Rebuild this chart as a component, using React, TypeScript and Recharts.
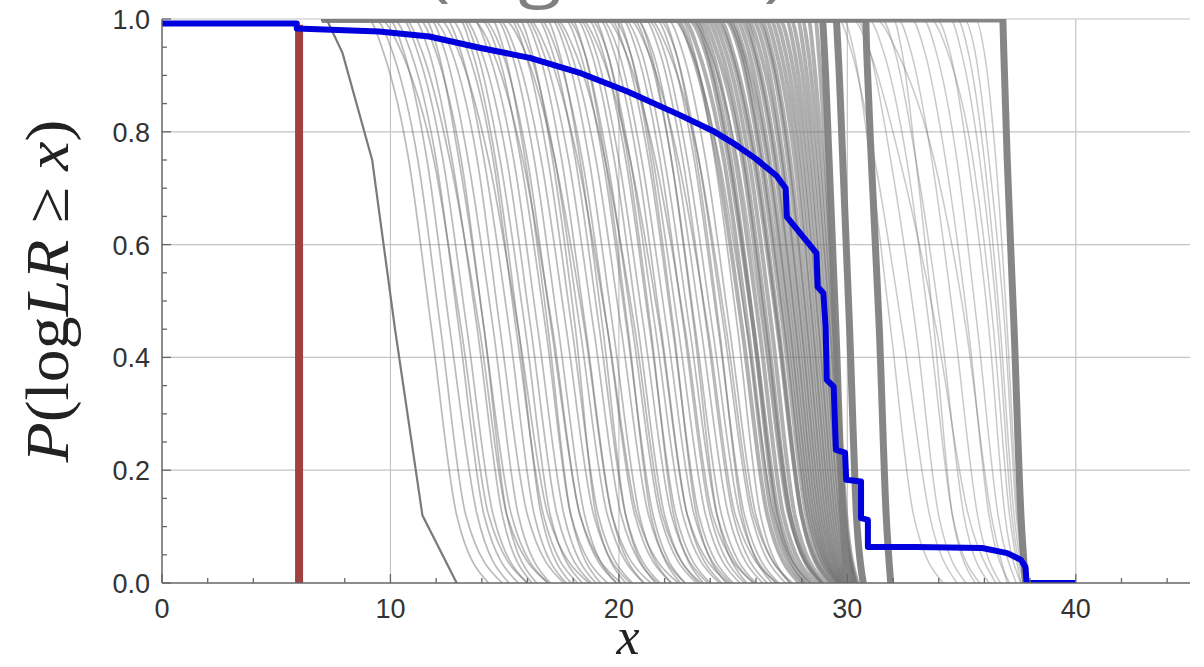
import React from 'react';
import { LineChart, Line, XAxis, YAxis, ReferenceLine } from 'recharts';

// y levels at which each gray curve's x position was read
const yLevels = [1, 0.94, 0.75, 0.45, 0.12, 0];
const curveStartX = 7;

// isolated darker curve on the left
const darkCurve = [7.2, 7.9, 9.2, 10.2, 11.4, 12.9];

// light simulated curves (x at each of yLevels)
const lightCurves: number[][] = [
  [9.0, 9.7, 10.8, 11.8, 12.9, 14.3],
  [9.3, 10.1, 11.2, 12.2, 13.3, 14.9],
  [9.9, 10.6, 11.6, 12.6, 13.8, 15.2],
  [10.1, 10.9, 12.0, 13.0, 14.1, 15.6],
  [10.5, 11.2, 12.3, 13.35, 14.5, 16.0],
  [11.0, 11.7, 12.7, 13.8, 14.9, 16.2],
  [11.2, 12.0, 13.1, 14.1, 15.3, 16.9],
  [11.7, 12.4, 13.4, 14.5, 15.6, 17.0],
  [11.8, 12.7, 13.8, 14.8, 16.0, 17.6],
  [12.4, 13.1, 14.1, 15.2, 16.3, 17.7],
  [12.6, 13.4, 14.5, 15.5, 16.7, 18.2],
  [13.1, 13.8, 14.8, 15.9, 17.0, 18.4],
  [13.2, 14.0, 15.1, 16.15, 17.3, 18.8],
  [13.6, 14.3, 15.4, 16.45, 17.6, 19.0],
  [13.9, 14.7, 15.7, 16.8, 17.9, 19.5],
  [14.0, 14.9, 16.0, 17.05, 18.3, 19.9],
  [14.6, 15.3, 16.3, 17.35, 18.5, 19.9],
  [14.7, 15.5, 16.6, 17.7, 18.9, 20.5],
  [15.2, 15.9, 16.9, 17.95, 19.1, 20.6],
  [15.3, 16.1, 17.2, 18.3, 19.5, 21.1],
  [15.8, 16.5, 17.5, 18.55, 19.7, 21.1],
  [15.9, 16.7, 17.8, 18.9, 20.1, 21.7],
  [16.4, 17.1, 18.1, 19.15, 20.3, 21.8],
  [16.5, 17.3, 18.4, 19.5, 20.7, 22.3],
  [17.0, 17.7, 18.7, 19.75, 20.9, 22.3],
  [17.1, 17.9, 19.0, 20.1, 21.3, 22.9],
  [17.6, 18.3, 19.3, 20.35, 21.5, 22.9],
  [17.7, 18.5, 19.5, 20.6, 21.8, 23.4],
  [18.1, 18.8, 19.8, 20.85, 22.0, 23.5],
  [18.2, 19.0, 20.0, 21.1, 22.3, 23.9],
  [18.6, 19.3, 20.3, 21.35, 22.5, 24.0],
  [18.7, 19.5, 20.5, 21.6, 22.8, 24.4],
  [19.1, 19.8, 20.8, 21.85, 23.0, 24.5],
  [19.2, 20.0, 21.0, 22.1, 23.3, 24.9],
  [19.6, 20.3, 21.3, 22.35, 23.5, 25.0],
  [19.7, 20.5, 21.5, 22.6, 23.8, 25.3],
  [20.1, 20.8, 21.8, 22.85, 24.0, 25.5],
  [20.2, 21.0, 22.0, 23.1, 24.3, 25.9],
  [20.6, 21.3, 22.3, 23.35, 24.5, 26.0],
  [20.7, 21.5, 22.5, 23.6, 24.8, 26.3],
  [21.1, 21.8, 22.8, 23.85, 25.0, 26.5],
  [21.2, 22.0, 23.0, 24.1, 25.3, 26.9],
  [21.6, 22.3, 23.3, 24.35, 25.5, 27.0],
  [21.7, 22.5, 23.5, 24.6, 25.8, 27.3],
  [22.1, 22.8, 23.8, 24.85, 26.0, 27.5],
];

// second family of light curves: gentler and steeper ones in between
const lightCurvesB: number[][] = [
  [9.5, 10.5, 11.9, 13.1, 14.3, 16.0],
  [10.6, 11.4, 12.6, 13.9, 15.1, 16.9],
  [11.5, 12.1, 13.0, 14.1, 15.1, 16.4],
  [12.1, 13.0, 14.3, 15.6, 16.9, 18.7],
  [13.0, 13.6, 14.6, 15.6, 16.6, 17.9],
  [13.5, 14.5, 15.8, 17.1, 18.3, 20.1],
  [14.4, 15.0, 15.9, 16.9, 17.9, 19.2],
  [14.9, 15.9, 17.2, 18.5, 19.7, 21.4],
  [15.6, 16.2, 17.1, 18.1, 19.0, 20.3],
  [16.0, 16.9, 18.2, 19.5, 20.8, 22.6],
  [16.8, 17.4, 18.3, 19.3, 20.3, 21.6],
  [17.2, 18.1, 19.4, 20.7, 21.9, 23.6],
  [17.9, 18.5, 19.4, 20.4, 21.4, 22.7],
  [18.3, 19.2, 20.5, 21.8, 23.0, 24.8],
  [18.9, 19.5, 20.4, 21.4, 22.4, 23.7],
  [19.4, 20.3, 21.6, 22.9, 24.1, 25.9],
  [19.9, 20.5, 21.4, 22.4, 23.4, 24.7],
  [20.4, 21.3, 22.6, 23.9, 25.1, 26.9],
  [20.8, 21.4, 22.3, 23.3, 24.3, 25.6],
  [21.3, 22.2, 23.5, 24.7, 25.9, 27.6],
  [21.9, 22.5, 23.4, 24.4, 25.4, 26.7],
  [22.3, 23.2, 24.4, 25.6, 26.8, 28.4],
  [22.7, 23.3, 24.2, 25.2, 26.2, 27.5],
  [23.1, 24.0, 25.2, 26.3, 27.4, 28.9],
];

// sparse curves right of the dense cluster
const rightCurves: number[][] = [
  [29.6, 30.2, 31.2, 32.4, 33.6, 34.8],
  [29.8, 30.3, 31.0, 31.9, 32.9, 34.2],
  [30.2, 31.0, 32.3, 33.9, 35.3, 36.5],
  [30.4, 31.0, 31.9, 33.0, 34.0, 35.2],
  [30.9, 31.6, 32.6, 33.6, 34.6, 35.8],
  [31.2, 32.2, 33.8, 35.2, 36.3, 37.0],
  [31.5, 32.1, 33.0, 34.1, 35.1, 36.2],
  [32.0, 32.4, 33.0, 33.8, 34.6, 35.6],
  [32.2, 32.8, 33.7, 34.7, 35.7, 36.7],
  [32.8, 33.4, 34.3, 35.3, 36.2, 37.1],
  [33.3, 33.9, 34.8, 35.7, 36.6, 37.4],
  [33.6, 34.4, 35.5, 36.4, 37.1, 37.6],
  [33.9, 34.5, 35.3, 36.2, 36.9, 37.6],
  [34.5, 35.0, 35.8, 36.6, 37.2, 37.7],
  [34.8, 35.3, 36.0, 36.7, 37.3, 37.75],
  [35.1, 35.6, 36.2, 36.9, 37.4, 37.8],
  [35.6, 36.0, 36.5, 37.0, 37.45, 37.8],
];

// densely packed curves (25–30)
const denseCurves: number[][] = [
  [22.5, 23.2, 24.3, 25.4, 26.5, 27.9],
  [22.8, 23.5, 24.6, 25.65, 26.7, 28.1],
  [23.0, 23.8, 24.8, 25.9, 27.0, 28.4],
  [23.3, 23.9, 24.9, 25.9, 26.9, 28.2],
  [23.4, 24.1, 25.1, 26.15, 27.2, 28.6],
  [23.6, 24.3, 25.4, 26.4, 27.5, 28.9],
  [23.8, 24.5, 25.5, 26.5, 27.5, 28.8],
  [24.0, 24.7, 25.7, 26.7, 27.7, 29.0],
  [24.2, 24.9, 25.9, 26.95, 28.0, 29.3],
  [24.4, 25.0, 26.0, 27.0, 28.0, 29.2],
  [24.6, 25.3, 26.2, 27.2, 28.2, 29.4],
  [24.7, 25.4, 26.3, 27.3, 28.3, 29.5],
  [24.9, 25.5, 26.5, 27.45, 28.4, 29.6],
  [25.1, 25.7, 26.6, 27.55, 28.5, 29.6],
  [25.3, 25.9, 26.8, 27.7, 28.6, 29.7],
  [25.5, 26.0, 26.9, 27.8, 28.7, 29.7],
  [25.6, 26.2, 27.1, 27.95, 28.8, 29.8],
  [25.8, 26.4, 27.2, 28.05, 28.9, 29.85],
  [26.0, 26.6, 27.4, 28.2, 29.0, 29.9],
  [26.2, 26.7, 27.5, 28.3, 29.1, 29.95],
  [26.4, 26.9, 27.7, 28.45, 29.2, 30.0],
  [26.6, 27.1, 27.85, 28.55, 29.3, 30.05],
  [26.8, 27.3, 28.0, 28.7, 29.4, 30.1],
  [27.0, 27.5, 28.15, 28.8, 29.5, 30.15],
  [27.3, 27.7, 28.3, 28.95, 29.6, 30.2],
  [27.5, 27.9, 28.45, 29.05, 29.7, 30.25],
  [27.8, 28.1, 28.6, 29.2, 29.8, 30.3],
  [28.0, 28.3, 28.75, 29.3, 29.85, 30.35],
  [28.3, 28.5, 28.9, 29.4, 29.9, 30.4],
  [28.6, 28.75, 29.05, 29.45, 29.95, 30.45],
];

// steep dark bundles of curves
const bandCurves: number[][] = [
  [28.9, 29.0, 29.2, 29.5, 29.8, 30.0],
  [29.5, 29.6, 29.8, 30.1, 30.4, 30.7],
  [30.8, 30.85, 31.05, 31.4, 31.7, 31.9],
  [36.8, 36.85, 37.0, 37.3, 37.6, 37.8],
];

// observed (blue) curve
const observedX = [0, 5.9, 5.9, 9.5, 11.7, 13.9, 16.1, 18.25, 20.4, 22.65, 24.1, 25.0, 26.0, 26.9, 27.3, 27.35, 28.65, 28.7, 28.95, 29.05, 29.1, 29.4, 29.5, 29.9, 29.95, 30.6, 30.6, 30.9, 30.9, 33.0, 35.9, 37.0, 37.6, 37.8, 37.85, 40.0];
const observedY = [0.992, 0.992, 0.983, 0.978, 0.969, 0.949, 0.931, 0.905, 0.871, 0.830, 0.802, 0.780, 0.752, 0.722, 0.700, 0.649, 0.585, 0.525, 0.514, 0.454, 0.360, 0.348, 0.236, 0.231, 0.183, 0.180, 0.115, 0.112, 0.064, 0.064, 0.062, 0.053, 0.041, 0.028, 0.0, 0.0];

// red threshold line
const thresholdX = 6;
const thresholdY = [0, 0.99];

const xTicks = [0, 2, 4, 6, 8, 10, 12, 14, 16, 18, 20, 22, 24, 26, 28, 30, 32, 34, 36, 38, 40, 42, 44];
const xTickLabels = [0, 10, 20, 30, 40];
const yTicks = [0, 0.05, 0.1, 0.15, 0.2, 0.25, 0.3, 0.35, 0.4, 0.45, 0.5, 0.55, 0.6, 0.65, 0.7, 0.75, 0.8, 0.85, 0.9, 0.95, 1.0];
const yTickLabels = [0, 0.2, 0.4, 0.6, 0.8, 1.0];
const gridX = [10, 20, 30, 40];
const gridY = [0.2, 0.4, 0.6, 0.8, 1.0];

const toPoints = (row: number[]) => {
  const pts = row.map((x, i) => ({ x, y: yLevels[i] }));
  return row[0] > curveStartX ? [{ x: curveStartX, y: 1 }, ...pts] : pts;
};
const observed = observedX.map((x, i) => ({ x, y: observedY[i] }));
const threshold = thresholdY.map((y) => ({ x: thresholdX, y }));

const tickFont = "'Liberation Sans', Arial, sans-serif";

const XTick = (props: any) => {
  const { x, y, payload } = props;
  const v = payload.value;
  const major = xTickLabels.some((t) => Math.abs(t - v) < 1e-6);
  return (
    <g>
      <line x1={x} y1={y} x2={x} y2={y - (major ? 9 : 5)} stroke="#666" strokeWidth={1.3} />
      {major && (
        <text x={x} y={y + 35} textAnchor="middle" fontFamily={tickFont} fontSize={27} fill="#333">
          {v}
        </text>
      )}
    </g>
  );
};

const YTick = (props: any) => {
  const { x, y, payload } = props;
  const v = payload.value;
  const major = yTickLabels.some((t) => Math.abs(t - v) < 1e-6);
  return (
    <g>
      <line x1={x} y1={y} x2={x + (major ? 9 : 5)} y2={y} stroke="#666" strokeWidth={1.3} />
      {major && (
        <text x={x - 12} y={y + 10} textAnchor="end" fontFamily={tickFont} fontSize={27} fill="#333">
          {v.toFixed(1)}
        </text>
      )}
    </g>
  );
};

const curveLine = (row: number[], key: string, stroke: string, opacity: number, width: number) => (
  <Line
    key={key}
    data={toPoints(row)}
    dataKey="y"
    type="monotone"
    stroke={stroke}
    strokeOpacity={opacity}
    strokeWidth={width}
    dot={false}
    activeDot={false}
    isAnimationActive={false}
  />
);

export default function App() {
  return (
    <div style={{ position: 'absolute', left: 0, top: 0, width: 1204, height: 667, background: '#fff' }}>
      <LineChart width={1204} height={667} margin={{ top: 19, right: 14, bottom: 44, left: 62 }}>
        <XAxis
          type="number"
          dataKey="x"
          domain={[0, 45]}
          ticks={xTicks}
          interval={0}
          tick={<XTick />}
          tickLine={false}
          tickSize={0}
          tickMargin={0}
          height={40}
          axisLine={{ stroke: '#666', strokeWidth: 1.5 }}
          allowDataOverflow
        />
        <YAxis
          type="number"
          dataKey="y"
          domain={[0, 1]}
          ticks={yTicks}
          interval={0}
          tick={<YTick />}
          tickLine={false}
          tickSize={0}
          tickMargin={0}
          width={100}
          axisLine={{ stroke: '#666', strokeWidth: 1.5 }}
          allowDataOverflow
        />
        {gridX.map((g) => (
          <ReferenceLine key={'gx' + g} x={g} stroke="#c4c4c4" strokeWidth={1.2} />
        ))}
        {gridY.map((g) => (
          <ReferenceLine key={'gy' + g} y={g} stroke="#c4c4c4" strokeWidth={1.2} />
        ))}
        {lightCurves.map((row, i) => curveLine(row, 'l' + i, '#6e6e6e', 0.48, 1.7))}
        {lightCurvesB.map((row, i) => curveLine(row, 'lb' + i, '#6e6e6e', 0.48, 1.7))}
        {rightCurves.map((row, i) => curveLine(row, 'r' + i, '#777', 0.4, 1.5))}
        {denseCurves.map((row, i) => curveLine(row, 'd' + i, '#707070', 0.55, 4))}
        {bandCurves.map((row, i) => curveLine(row, 'b' + i, '#808080', 0.95, 7))}
        <Line
          data={toPoints(darkCurve)}
          dataKey="y"
          type="linear"
          stroke="#7a7a7a"
          strokeWidth={2.2}
          dot={false}
          activeDot={false}
          isAnimationActive={false}
        />
        <Line
          data={threshold}
          dataKey="y"
          type="linear"
          stroke="#a33f3f"
          strokeWidth={8}
          dot={false}
          activeDot={false}
          isAnimationActive={false}
        />
        <Line
          data={observed}
          dataKey="y"
          type="linear"
          stroke="#0000dd"
          strokeWidth={6}
          strokeLinejoin="round"
          dot={false}
          activeDot={false}
          isAnimationActive={false}
        />
      </LineChart>
      <svg
        width={1204}
        height={667}
        style={{ position: 'absolute', left: 0, top: 0, pointerEvents: 'none' }}
      >
        <text
          x={427}
          y={-7}
          fontFamily="'Open Sans', sans-serif"
          fontSize={70}
          fill="#808080"
          textLength={360}
          lengthAdjust="spacingAndGlyphs"
        >
          (log10 LR)
        </text>
        <text
          x={68}
          y={291}
          transform="rotate(-90 68 291)"
          textAnchor="middle"
          fontFamily="'Liberation Serif', 'DejaVu Serif', serif"
          fontSize={62}
          fill="#222"
          textLength={343}
          lengthAdjust="spacingAndGlyphs"
        >
          <tspan fontStyle="italic">P</tspan>
          <tspan>(log</tspan>
          <tspan fontStyle="italic">LR</tspan>
          <tspan> ≥ </tspan>
          <tspan fontStyle="italic">x</tspan>
          <tspan>)</tspan>
        </text>
        <text
          x={628}
          y={654}
          textAnchor="middle"
          fontFamily="'Liberation Serif', 'DejaVu Serif', serif"
          fontStyle="italic"
          fontSize={52}
          fill="#222"
        >
          x
        </text>
      </svg>
    </div>
  );
}
